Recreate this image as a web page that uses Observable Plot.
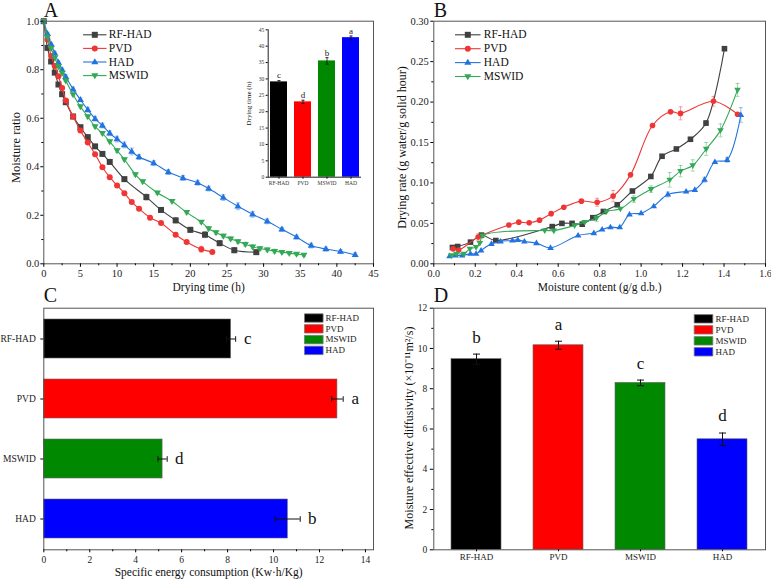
<!DOCTYPE html>
<html><head><meta charset="utf-8">
<script src="https://cdn.jsdelivr.net/npm/d3@7"></script>
<script src="https://cdn.jsdelivr.net/npm/@observablehq/plot@0.6"></script>
<style>
html,body{margin:0;padding:0;background:#fff;}
#fig{position:relative;width:771px;height:581px;overflow:hidden;background:#fff;}
#fig > div{position:absolute;}
#fig svg, #fig svg text, #fig svg tspan{font-family:"Liberation Serif", serif !important;}
#fig svg{background:transparent !important;overflow:hidden;}
</style></head><body><div id="fig"></div>
<script>
// ---------- Panel A : moisture ratio vs drying time ----------
const aRfT  = [0,0.5,1,1.5,2,2.5,3,4,5,6,7,8,9,11,14,16,18,20,22,24,26,29];
const aRfMR = [1.0,0.89,0.834,0.788,0.739,0.699,0.666,0.607,0.563,0.522,0.484,0.453,0.42,0.349,0.275,0.222,0.179,0.14,0.12,0.085,0.056,0.048];
const aRfE  = [0,0.005,0.005,0.005,0.005,0.005,0.005,0.008,0.008,0.008,0.008,0.008,0.008,0.008,0.012,0.01,0.01,0.01,0.012,0.01,0.01,0.005];
const aPvT  = [0,0.5,1,1.5,2,2.5,3,4,5,6,7,8,9,10,11,12,13,14.5,16,18,19.5,21.5,23];
const aPvMR = [1.0,0.925,0.857,0.815,0.773,0.725,0.673,0.607,0.549,0.5,0.452,0.398,0.357,0.323,0.291,0.255,0.227,0.19,0.168,0.12,0.09,0.06,0.049];
const aPvE  = [0,0.005,0.005,0.005,0.005,0.005,0.005,0.006,0.006,0.006,0.006,0.006,0.006,0.006,0.006,0.006,0.006,0.008,0.006,0.006,0.006,0.012,0.004];
const aHaT  = [0,0.5,1,1.5,2,2.5,3,4,5,6,7,8,9,10,11,12,13,15,17,19,21,22.5,24.5,26.5,28.5,30.5,32.5,34.5,36.5,38.5,40.5,42.5];
const aHaMR = [1.0,0.948,0.905,0.868,0.83,0.80,0.771,0.72,0.676,0.635,0.598,0.57,0.538,0.514,0.49,0.463,0.44,0.415,0.378,0.354,0.334,0.31,0.273,0.237,0.204,0.175,0.142,0.11,0.075,0.061,0.051,0.037];
const aHaE  = [0,0.006,0.006,0.006,0.006,0.006,0.008,0.008,0.008,0.01,0.01,0.01,0.01,0.012,0.012,0.014,0.01,0.01,0.01,0.01,0.01,0.01,0.012,0.014,0.012,0.01,0.008,0.008,0.01,0.008,0.008,0.008];
const aMsT  = [0,0.5,1,1.5,2,2.5,3,4,5,6,7,8,9,10,11,12.5,13.5,15.5,17.5,19.5,21.5,22.5,23.5,24.5,25.5,26.5,27.5,28.5,29.5,30.5,31.5,32.5,33.5,34.5,35.5];
const aMsMR = [1.0,0.934,0.889,0.849,0.813,0.786,0.755,0.698,0.648,0.607,0.566,0.538,0.504,0.467,0.43,0.368,0.339,0.293,0.258,0.212,0.172,0.145,0.129,0.115,0.103,0.092,0.081,0.07,0.063,0.058,0.052,0.048,0.044,0.04,0.036];
const aMsE  = [0,0.005,0.005,0.005,0.005,0.005,0.005,0.006,0.006,0.006,0.006,0.006,0.006,0.008,0.006,0.006,0.006,0.006,0.006,0.006,0.006,0.008,0.008,0.008,0.008,0.008,0.008,0.008,0.008,0.008,0.008,0.006,0.006,0.006,0.006];
const aXTicks = [0,5,10,15,20,25,30,35,40,45];
const aXMinor = [2.5,7.5,12.5,17.5,22.5,27.5,32.5,37.5,42.5];
const aYTicks = [0,0.2,0.4,0.6,0.8,1.0];
const aYMinor = [0.1,0.3,0.5,0.7,0.9];

// inset of A : total drying time
const insetCats = ["RF-HAD","PVD","MSWID","HAD"];
const insetTime = [29.1,23.0,35.5,42.6];
const insetErr  = [0.4,0.5,1.0,0.5];
const insetLetters = ["c","d","b","a"];
const insetYTicks = [0,5,10,15,20,25,30,35,40,45];

// ---------- Panel B : drying rate vs moisture content ----------
const bRfX = [0.09,0.115,0.177,0.23,0.299,0.571,0.618,0.667,0.716,0.767,0.818,0.885,0.958,1.047,1.101,1.17,1.238,1.313,1.402];
const bRfY = [0.0202,0.0214,0.0268,0.0355,0.0288,0.046,0.050,0.050,0.049,0.057,0.0647,0.073,0.090,0.108,0.133,0.142,0.154,0.174,0.266];
const bRfE = [0,0,0,0,0,0,0,0,0,0,0,0,0,0,0,0,0,0.003,0];
const bPvX = [0.093,0.12,0.214,0.362,0.41,0.46,0.51,0.566,0.627,0.712,0.788,0.865,0.949,1.055,1.142,1.19,1.349,1.465];
const bPvY = [0.0185,0.017,0.033,0.048,0.0515,0.0507,0.054,0.062,0.070,0.0775,0.076,0.0837,0.110,0.171,0.188,0.186,0.201,0.185];
const bPvE = [0,0,0.004,0,0,0,0,0,0,0,0.005,0.007,0,0,0,0.008,0.006,0];
const bHaX = [0.076,0.105,0.137,0.177,0.204,0.228,0.278,0.322,0.379,0.405,0.437,0.495,0.563,0.696,0.772,0.812,0.852,0.897,0.944,1.0,1.061,1.129,1.217,1.259,1.306,1.356,1.415,1.481];
const bHaY = [0.0095,0.0103,0.0103,0.0124,0.0124,0.0165,0.0247,0.0276,0.0288,0.0297,0.0276,0.0256,0.0198,0.035,0.038,0.0424,0.0453,0.0453,0.061,0.0626,0.0713,0.0857,0.0894,0.0915,0.104,0.126,0.1286,0.184];
const bHaE = [0,0,0,0,0,0,0,0,0,0,0,0,0,0,0,0,0,0,0,0,0,0.003,0,0,0.003,0,0.003,0.009];
const bMsX = [0.085,0.109,0.145,0.174,0.204,0.222,0.236,0.535,0.579,0.679,0.728,0.785,0.833,0.9,0.965,1.048,1.138,1.19,1.249,1.314,1.383,1.465];
const bMsY = [0.0103,0.0124,0.0124,0.0185,0.0206,0.0256,0.035,0.0412,0.041,0.0474,0.0515,0.0565,0.0647,0.068,0.080,0.0923,0.1038,0.1146,0.1216,0.142,0.165,0.215];
const bMsE = [0,0,0,0,0,0,0,0,0,0,0,0.004,0,0,0.004,0.004,0.009,0.007,0.007,0.008,0.008,0.008];
const bXTicks = [0,0.2,0.4,0.6,0.8,1.0,1.2,1.4,1.6];
const bXMinor = [0.1,0.3,0.5,0.7,0.9,1.1,1.3,1.5];
const bYTicks = [0,0.05,0.10,0.15,0.20,0.25,0.30];
const bYMinor = [0.025,0.075,0.125,0.175,0.225,0.275];

// ---------- Panel C : specific energy consumption ----------
const cCats = ["RF-HAD","PVD","MSWID","HAD"];
const cSEC  = [8.15,12.78,5.17,10.62];
const cErr  = [0.2,0.25,0.2,0.54];
const cLetters = ["c","a","d","b"];
const cXTicks = [0,2,4,6,8,10,12,14];
const cXMinor = [1,3,5,7,9,11,13];

// ---------- Panel D : moisture effective diffusivity ----------
const dCats = ["RF-HAD","PVD","MSWID","HAD"];
const dDeff = [9.47,10.16,8.29,5.49];
const dErr  = [0.25,0.2,0.14,0.31];
const dLetters = ["b","a","c","d"];
const dYTicks = [0,2,4,6,8,10,12];
const dYMinor = [1,3,5,7,9,11];

// ---------- styling ----------
const FONT = "Liberation Serif";
const barColor = {"RF-HAD":"#000000","PVD":"#ff0000","MSWID":"#008800","HAD":"#0000ff"};
const legendOrder = ["RF-HAD","PVD","MSWID","HAD"];

const sym = {
  square:{draw(c,s){const r=Math.sqrt(s/Math.PI);c.moveTo(-r,-r);c.lineTo(r,-r);c.lineTo(r,r);c.lineTo(-r,r);c.closePath();}},
  circle:{draw(c,s){const r=Math.sqrt(s/Math.PI);c.moveTo(r,0);c.arc(0,0,r,0,2*Math.PI);c.closePath();}},
  up:{draw(c,s){const r=Math.sqrt(s/Math.PI)*1.25;c.moveTo(0,-r);c.lineTo(r*0.95,r*0.6);c.lineTo(-r*0.95,r*0.6);c.closePath();}},
  down:{draw(c,s){const r=Math.sqrt(s/Math.PI)*1.25;c.moveTo(0,r);c.lineTo(r*0.95,-r*0.6);c.lineTo(-r*0.95,-r*0.6);c.closePath();}},
  hbar:{draw(c,s){const r=Math.sqrt(s/Math.PI);c.moveTo(-r,0);c.lineTo(r,0);}},
  vbar:{draw(c,s){const r=Math.sqrt(s/Math.PI);c.moveTo(0,-r);c.lineTo(0,r);}},
  box:{draw(c,s){c.moveTo(-9.3,-4.2);c.lineTo(9.3,-4.2);c.lineTo(9.3,4.2);c.lineTo(-9.3,4.2);c.closePath();}}
};

const seriesA = [
  {name:"RF-HAD", x:aRfT, y:aRfMR, e:aRfE, color:"#404040", sym:sym.square},
  {name:"PVD",    x:aPvT, y:aPvMR, e:aPvE, color:"#f03535", sym:sym.circle},
  {name:"HAD",    x:aHaT, y:aHaMR, e:aHaE, color:"#2273e0", sym:sym.up},
  {name:"MSWID",  x:aMsT, y:aMsMR, e:aMsE, color:"#33a856", sym:sym.down}
];
const seriesB = [
  {name:"RF-HAD", x:bRfX, y:bRfY, e:bRfE, color:"#404040", sym:sym.square},
  {name:"PVD",    x:bPvX, y:bPvY, e:bPvE, color:"#f03535", sym:sym.circle},
  {name:"HAD",    x:bHaX, y:bHaY, e:bHaE, color:"#2273e0", sym:sym.up},
  {name:"MSWID",  x:bMsX, y:bMsY, e:bMsE, color:"#33a856", sym:sym.down}
];

function curveMarks(series, r) {
  const out = [];
  for (const s of series) {
    const rows = s.x.map((x,i)=>({x, y:s.y[i], e:s.e[i]}));
    const er = rows.filter(d=>d.e>0);
    out.push(Plot.ruleX(er,{x:"x",y1:d=>d.y-d.e,y2:d=>d.y+d.e,stroke:s.color,strokeOpacity:0.45,strokeWidth:1}));
    out.push(Plot.dot(er,{x:"x",y:d=>d.y+d.e,symbol:sym.hbar,r:2,stroke:s.color,strokeOpacity:0.45,strokeWidth:1,fill:"none"}));
    out.push(Plot.dot(er,{x:"x",y:d=>d.y-d.e,symbol:sym.hbar,r:2,stroke:s.color,strokeOpacity:0.45,strokeWidth:1,fill:"none"}));
    out.push(Plot.line(rows,{x:"x",y:"y",stroke:s.color,strokeWidth:1.1,curve:"catmull-rom"}));
    out.push(Plot.dot(rows,{x:"x",y:"y",symbol:s.sym,r:r,fill:s.color,stroke:"none"}));
  }
  return out;
}
function lineLegend(series, dxLine, dxText, dy0, step, half) {
  const out = [];
  series.forEach((s,i)=>{
    const dy = dy0 + i*step;
    out.push(Plot.dot([s.name],{frameAnchor:"top-left",dx:dxLine,dy,symbol:sym.hbar,r:half,stroke:s.color,strokeWidth:1.1,fill:"none"}));
    out.push(Plot.dot([s.name],{frameAnchor:"top-left",dx:dxLine,dy,symbol:s.sym,r:3,fill:s.color,stroke:"none"}));
    out.push(Plot.text([s.name],{frameAnchor:"top-left",dx:dxText,dy,textAnchor:"start",lineAnchor:"middle",fontSize:11.5,fontFamily:FONT,fill:"#111"}));
  });
  return out;
}
function boxLegend(dxBox, dxText, dy0, step) {
  const out = [];
  legendOrder.forEach((n,i)=>{
    const dy = dy0 + i*step;
    out.push(Plot.dot([n],{frameAnchor:"top-right",dx:dxBox,dy,symbol:sym.box,fill:barColor[n],stroke:"#777",strokeWidth:0.8}));
    out.push(Plot.text([n],{frameAnchor:"top-right",dx:dxText,dy,textAnchor:"start",lineAnchor:"middle",fontSize:9,fontFamily:FONT,fill:"#222"}));
  });
  return out;
}
function panelLetter(t, dy) {
  return Plot.text([t],{frameAnchor:"top-left",dy,textAnchor:"start",lineAnchor:"bottom",fontSize:20,fontFamily:FONT,fill:"#111"});
}
function yTitle(t, dx, dy, size) {
  return Plot.text([t],{frameAnchor:"left",dx,dy,rotate:-90,textAnchor:"middle",lineAnchor:"middle",fontSize:size,fontFamily:FONT,fill:"#111"});
}
function xTitle(t, dy, size) {
  return Plot.text([t],{frameAnchor:"bottom",dy,textAnchor:"middle",lineAnchor:"middle",fontSize:size,fontFamily:FONT,fill:"#111"});
}
function place(svg, left, top) {
  const d = document.createElement("div");
  d.style.left = left+"px"; d.style.top = top+"px";
  d.append(svg);
  document.getElementById("fig").append(d);
}
const baseStyle = {fontFamily: FONT, background: "transparent", overflow: "hidden"};

// ---------- Panel A ----------
place(Plot.plot({
  width:390, height:294, marginLeft:43.3, marginRight:17, marginTop:20.7, marginBottom:30.7,
  style: baseStyle,
  x:{domain:[0,45]}, y:{domain:[0,1]},
  marks:[
    ...curveMarks(seriesA, 3),
    Plot.frame({stroke:"#555"}),
    Plot.axisX({ticks:aXTicks,tickSize:3.5,tickPadding:2.5,fontSize:10.5,label:null,fill:"#222"}),
    Plot.axisX({ticks:aXMinor,tickSize:2,tickFormat:()=>"",label:null}),
    Plot.axisY({ticks:aYTicks,tickSize:3,tickPadding:1.5,tickFormat:d3.format(".1f"),fontSize:10.5,label:null,fill:"#222"}),
    Plot.axisY({ticks:aYMinor,tickSize:2,tickFormat:()=>"",label:null}),
    xTitle("Drying time (h)", 23.2, 11.5),
    yTitle("Moisture ratio", -28, 5, 12.5),
    ...lineLegend(seriesA, 51, 65, 13.6, 13.6, 11.7),
    panelLetter("A", -4)
  ]
}), 0, 0);

// ---------- inset of A ----------
const insetRows = insetCats.map((c,i)=>({c, v:insetTime[i], e:insetErr[i], l:insetLetters[i]}));
place(Plot.plot({
  width:130, height:172, marginLeft:32.7, marginRight:5, marginTop:9.3, marginBottom:15.3,
  style: baseStyle,
  x:{domain:insetCats, paddingInner:0.31, paddingOuter:0.03},
  y:{domain:[0,45]},
  marks:[
    Plot.barY(insetRows,{x:"c",y:"v",fill:d=>barColor[d.c]}),
    Plot.ruleX(insetRows,{x:"c",y1:d=>d.v-d.e,y2:d=>d.v+d.e,stroke:"#111",strokeWidth:0.8}),
    Plot.dot(insetRows,{x:"c",y:d=>d.v+d.e,symbol:sym.hbar,r:1.6,stroke:"#111",strokeWidth:0.8,fill:"none"}),
    Plot.dot(insetRows,{x:"c",y:d=>d.v-d.e,symbol:sym.hbar,r:1.6,stroke:"#111",strokeWidth:0.8,fill:"none"}),
    Plot.text(insetRows,{x:"c",y:d=>d.v+d.e,text:"l",dy:-5,lineAnchor:"middle",fontSize:9,fontFamily:FONT,fill:"#222"}),
    Plot.frame({anchor:"left",stroke:"#222"}),
    Plot.frame({anchor:"bottom",stroke:"#222"}),
    Plot.axisY({ticks:insetYTicks,tickSize:2,tickPadding:2,fontSize:5.5,label:null,fill:"#333"}),
    Plot.axisX({tickSize:2,tickPadding:2,fontSize:5.5,label:null,fill:"#333"}),
    yTitle("Drying time (h)", -19.4, 0, 7)
  ]
}), 235, 20);

// ---------- Panel B ----------
place(Plot.plot({
  width:381, height:294, marginLeft:43.3, marginRight:6, marginTop:20.7, marginBottom:30.7,
  style: baseStyle,
  x:{domain:[0,1.6]}, y:{domain:[0,0.3]},
  marks:[
    ...curveMarks(seriesB, 2.8),
    Plot.frame({stroke:"#555"}),
    Plot.axisX({ticks:bXTicks,tickSize:3.5,tickPadding:2.5,tickFormat:d3.format(".1f"),fontSize:10,label:null,fill:"#222"}),
    Plot.axisX({ticks:bXMinor,tickSize:2,tickFormat:()=>"",label:null}),
    Plot.axisY({ticks:bYTicks,tickSize:3,tickPadding:2,tickFormat:d3.format(".2f"),fontSize:10.5,label:null,fill:"#222"}),
    Plot.axisY({ticks:bYMinor,tickSize:2,tickFormat:()=>"",label:null}),
    xTitle("Moisture content (g/g d.b.)", 23.2, 11.5),
    yTitle("Drying rate (g water/g solid hour)", -31.6, 5, 12),
    ...lineLegend(seriesB, 34, 50, 13.6, 13.9, 12.8),
    panelLetter("B", -4)
  ]
}), 390, 0);

// ---------- Panel C ----------
const cRows = cCats.map((c,i)=>({c, v:cSEC[i], e:cErr[i], l:cLetters[i]}));
place(Plot.plot({
  width:390, height:296, marginLeft:43.3, marginRight:17, marginTop:22.7, marginBottom:31.7,
  style: baseStyle,
  x:{domain:[0,14.35]},
  y:{domain:cCats, paddingInner:0.35, paddingOuter:0.165},
  marks:[
    Plot.barX(cRows,{y:"c",x:"v",fill:d=>barColor[d.c],stroke:"#666",strokeWidth:0.6}),
    Plot.ruleY(cRows,{y:"c",x1:d=>d.v-d.e,x2:d=>d.v+d.e,stroke:"#111",strokeWidth:1}),
    Plot.dot(cRows,{y:"c",x:d=>d.v-d.e,symbol:sym.vbar,r:2.8,stroke:"#111",strokeWidth:1,fill:"none"}),
    Plot.dot(cRows,{y:"c",x:d=>d.v+d.e,symbol:sym.vbar,r:2.8,stroke:"#111",strokeWidth:1,fill:"none"}),
    Plot.text(cRows,{y:"c",x:d=>d.v+d.e,text:"l",dx:12,textAnchor:"middle",lineAnchor:"middle",fontSize:17,fontFamily:FONT,fill:"#111"}),
    Plot.frame({stroke:"#555"}),
    Plot.axisX({ticks:cXTicks,tickSize:3,tickPadding:3.5,fontSize:9.5,label:null,fill:"#222"}),
    Plot.axisX({ticks:cXMinor,tickSize:2,tickFormat:()=>"",label:null}),
    Plot.axisY({tickSize:3,tickPadding:5,fontSize:9.5,label:null,fill:"#222"}),
    xTitle("Specific energy consumption (Kw·h/Kg)", 22.4, 11.5),
    ...boxLegend(-59.7, -48, 9.8, 10.8),
    panelLetter("C", -6)
  ]
}), 0, 285);

// ---------- Panel D ----------
const dRows = dCats.map((c,i)=>({c, v:dDeff[i], e:dErr[i], l:dLetters[i]}));
place(Plot.plot({
  width:381, height:296, marginLeft:43.3, marginRight:6, marginTop:22.7, marginBottom:31.7,
  style: baseStyle,
  x:{domain:dCats, paddingInner:0.39, paddingOuter:0.21},
  y:{domain:[0,12]},
  marks:[
    Plot.barY(dRows,{x:"c",y:"v",fill:d=>barColor[d.c],stroke:"#666",strokeWidth:0.6}),
    Plot.ruleX(dRows,{x:"c",y1:d=>d.v-d.e,y2:d=>d.v+d.e,stroke:"#111",strokeWidth:1}),
    Plot.dot(dRows,{x:"c",y:d=>d.v-d.e,symbol:sym.hbar,r:3.5,stroke:"#111",strokeWidth:1,fill:"none"}),
    Plot.dot(dRows,{x:"c",y:d=>d.v+d.e,symbol:sym.hbar,r:3.5,stroke:"#111",strokeWidth:1,fill:"none"}),
    Plot.text(dRows,{x:"c",y:d=>d.v+d.e,text:"l",dy:-17,textAnchor:"middle",lineAnchor:"middle",fontSize:17,fontFamily:FONT,fill:"#111"}),
    Plot.frame({stroke:"#555"}),
    Plot.axisX({tickSize:2,tickPadding:1.5,fontSize:9,label:null,fill:"#222"}),
    Plot.axisY({ticks:dYTicks,tickSize:3.5,tickPadding:3,fontSize:9.5,label:null,fill:"#222"}),
    Plot.axisY({ticks:dYMinor,tickSize:2,tickFormat:()=>"",label:null}),
    yTitle("Moisture effective diffusivity (×10⁻¹¹m²/s)", -25, -1, 12),
    ...boxLegend(-62, -50, 10.6, 11),
    panelLetter("D", -6)
  ]
}), 390, 285);
</script></body></html>
